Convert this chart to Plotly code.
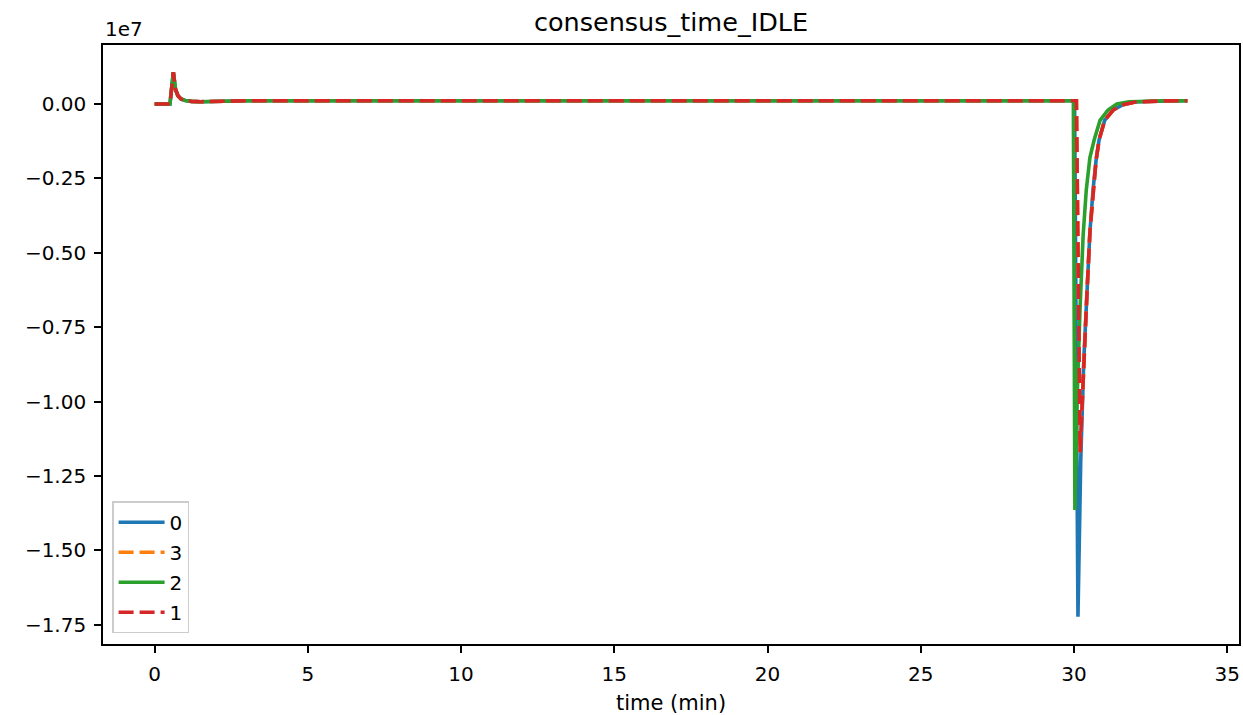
import plotly.graph_objects as go

# ---- data (time in minutes, value in raw units) ----
t_0 = [0.0, 0.5, 0.61, 0.68, 0.76, 0.86, 1.0, 1.2, 1.5, 2.0, 3.0, 10.0, 20.0, 29.5,
       30.02, 30.13, 30.22, 30.32, 30.43, 30.52, 30.62, 30.72, 30.82, 31.0, 31.28,
       31.6, 32.0, 32.5, 33.0, 33.7]
v_0 = [0, 0, 1.07e6, 5.0e5, 2.8e5, 1.7e5, 1.2e5, 9e4, 8e4, 1.0e5, 1.1e5, 1.1e5, 1.1e5, 1.1e5,
       1.1e5, -1.723e7, -1.2e7, -8.6e6, -6.2e6, -4.3e6, -2.9e6, -1.9e6, -1.2e6, -5.5e5, -2.0e5,
       -2e4, 7e4, 1.0e5, 1.08e5, 1.1e5]

t_3 = [0.0, 0.5, 0.61, 0.68, 0.76, 0.86, 1.0, 1.2, 1.5, 2.0, 3.0, 10.0, 20.0, 29.5,
       30.08, 30.2, 30.32, 30.43, 30.52, 30.62, 30.72, 30.82, 31.0, 31.28,
       31.6, 32.0, 32.5, 33.0, 33.7]
v_3 = [0, 0, 1.07e6, 5.0e5, 2.8e5, 1.7e5, 1.2e5, 9e4, 8e4, 1.0e5, 1.1e5, 1.1e5, 1.1e5, 1.1e5,
       1.1e5, -1.17e7, -8.6e6, -6.2e6, -4.3e6, -2.9e6, -1.9e6, -1.2e6, -5.5e5, -2.0e5,
       -2e4, 7e4, 1.0e5, 1.08e5, 1.1e5]

t_2 = [0.0, 0.5, 0.61, 0.68, 0.76, 0.86, 1.0, 1.2, 1.5, 2.0, 3.0, 10.0, 20.0, 29.5,
       29.98, 30.03, 30.1, 30.2, 30.3, 30.4, 30.52, 30.66, 30.85, 31.11, 31.4,
       31.8, 32.3, 33.0, 33.7]
v_2 = [0, 0, 1.07e6, 5.0e5, 2.8e5, 1.7e5, 1.2e5, 9e4, 8e4, 1.0e5, 1.1e5, 1.1e5, 1.1e5, 1.1e5,
       1.1e5, -1.364e7, -1.0e7, -6.8e6, -4.4e6, -2.9e6, -1.8e6, -1.2e6, -5.5e5, -2.0e5, 0,
       8e4, 1.05e5, 1.1e5, 1.1e5]

t_1 = [0.0, 0.5, 0.61, 0.68, 0.76, 0.86, 1.0, 1.2, 1.5, 2.0, 3.0, 10.0, 20.0, 29.5,
       30.08, 30.2, 30.32, 30.43, 30.52, 30.62, 30.72, 30.82, 31.0, 31.28,
       31.6, 32.0, 32.5, 33.0, 33.7]
v_1 = [0, 0, 1.07e6, 5.0e5, 2.8e5, 1.7e5, 1.2e5, 9e4, 8e4, 1.0e5, 1.1e5, 1.1e5, 1.1e5, 1.1e5,
       1.1e5, -1.17e7, -8.6e6, -6.2e6, -4.3e6, -2.9e6, -1.9e6, -1.2e6, -5.5e5, -2.0e5,
       -2e4, 7e4, 1.0e5, 1.08e5, 1.1e5]

series_names = ["0", "3", "2", "1"]
series_t = [t_0, t_3, t_2, t_1]
series_v = [v_0, v_3, v_2, v_1]
series_colors = ["#1f77b4", "#ff7f0e", "#2ca02c", "#d62728"]
series_dash = ["solid", "15px,6px", "solid", "15px,6px"]

x_ticks = [0, 5, 10, 15, 20, 25, 30, 35]
y_ticks = [0, -0.25e7, -0.5e7, -0.75e7, -1.0e7, -1.25e7, -1.5e7, -1.75e7]
y_ticktext = ["0.00", "\u22120.25", "\u22120.50", "\u22120.75", "\u22121.00",
              "\u22121.25", "\u22121.50", "\u22121.75"]

FONT = "DejaVu Sans"
FS = 20

fig = go.Figure()
for name, t, v, c, d in zip(series_names, series_t, series_v, series_colors, series_dash):
    fig.add_trace(go.Scatter(x=t, y=v, mode="lines", name=name, legendgroup=name,
                             line=dict(color=c, width=3.6, dash=d)))

axis_common = dict(showline=True, mirror=True, linecolor="black", linewidth=1.6,
                   ticks="outside", ticklen=7, tickwidth=1.6, tickcolor="black",
                   showgrid=False, zeroline=False, automargin=False,
                   ticklabelstandoff=4,
                   tickfont=dict(family=FONT, size=FS, color="black"))

fig.update_layout(
    width=1243, height=715,
    margin=dict(l=103, r=4, t=45, b=71, autoexpand=False),
    paper_bgcolor="white", plot_bgcolor="white",
    font=dict(family=FONT, color="black"),
    title=dict(text="consensus_time_IDLE", x=0.5, xref="paper", xanchor="center",
               y=1 - 22 / 715, yanchor="middle", font=dict(family=FONT, size=25.5, color="black")),
    xaxis=dict(range=[-1.685, 35.385], tickvals=x_ticks, **axis_common),
    yaxis=dict(range=[-1.8145e7, 1.985e6], tickvals=y_ticks, ticktext=y_ticktext,
               **axis_common),
    legend=dict(x=0.008, y=0.018, xanchor="left", yanchor="bottom",
                bgcolor="rgba(255,255,255,0.8)", bordercolor="#cccccc", borderwidth=1.5,
                font=dict(family=FONT, size=FS), tracegroupgap=1, itemwidth=46),
    showlegend=True,
)

fig.add_annotation(text="time (min)", xref="paper", yref="paper", x=0.5, y=-59 / 599,
                   xanchor="center", yanchor="middle", showarrow=False,
                   font=dict(family=FONT, size=21, color="black"))
fig.add_annotation(text="1e7", xref="paper", yref="paper", x=0, y=1, xanchor="left",
                   yanchor="bottom", showarrow=False, yshift=2,
                   font=dict(family=FONT, size=FS, color="black"))

fig.write_html("out.html", config={"displayModeBar": False},
               post_script="document.body.style.margin='0';document.body.style.overflow='hidden';")
